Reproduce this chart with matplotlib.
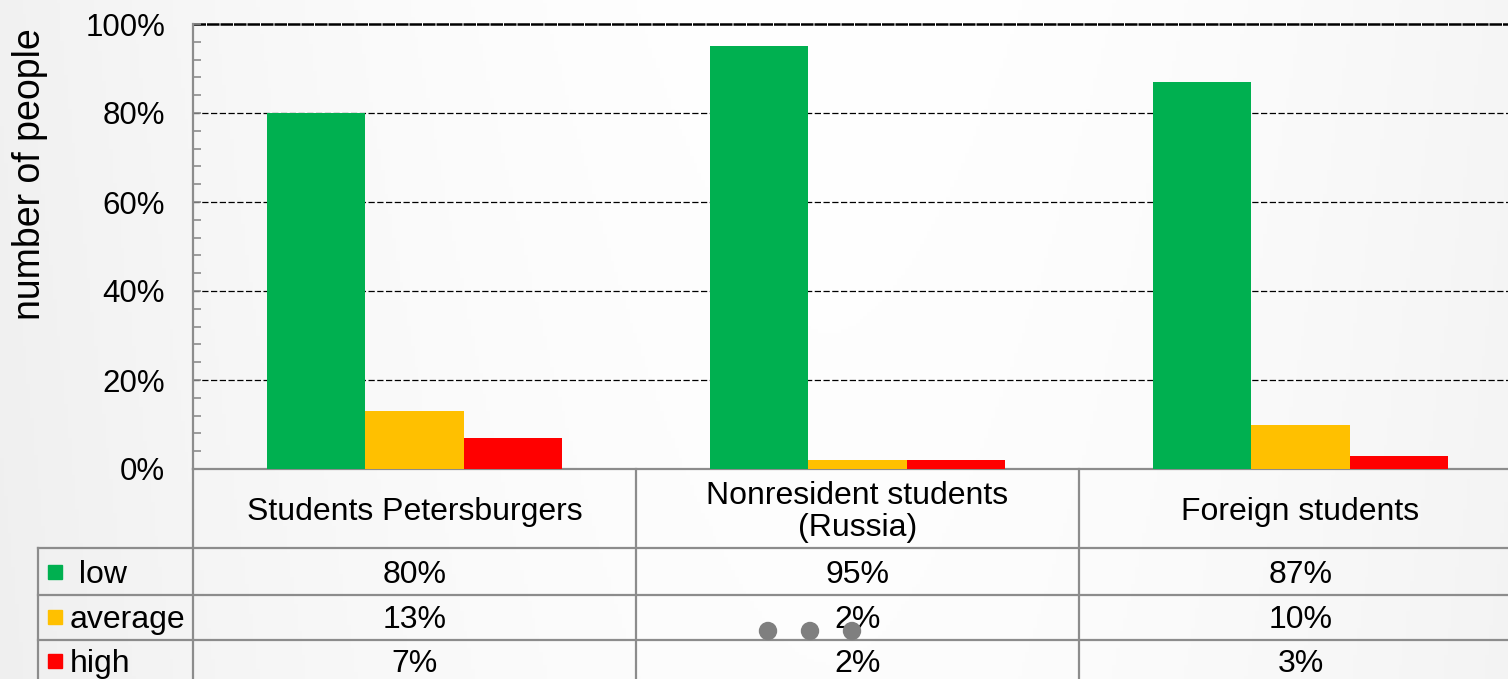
import numpy as np
import matplotlib
matplotlib.use("Agg")
import matplotlib.pyplot as plt
from matplotlib.transforms import blended_transform_factory
from matplotlib.lines import Line2D
from matplotlib.patches import Rectangle, Ellipse
from matplotlib.ticker import MultipleLocator, FuncFormatter

# ---- data ----
categories = ["Students Petersburgers", "Nonresident students\n(Russia)", "Foreign students"]
series_names = [" low", "average", "high"]
low = [80, 95, 87]
average = [13, 2, 10]
high = [7, 2, 3]
series_values = [low, average, high]
series_colors = ["#00B050", "#FFC000", "#FF0000"]
yticks = [0, 20, 40, 60, 80, 100]

plt.rcParams['font.family'] = ['Liberation Sans', 'DejaVu Sans']

W, H = 1508, 679
fig = plt.figure(figsize=(W / 100, H / 100), dpi=100)

def fy(y):
    return 1 - y / H

def fx(x):
    return x / W

# background gradient
bg = fig.add_axes([0, 0, 1, 1], zorder=-10)
xs = np.linspace(0, 1, 400)
ys = np.linspace(0, 1, 200)
X, Y = np.meshgrid(xs, ys)
val = 1 - 0.045 * (np.abs(X - 0.55) * 2) ** 1.8 - 0.008 * Y
img = np.dstack([val, val, val])
bg.imshow(img, extent=[0, 1, 0, 1], aspect='auto', vmin=0, vmax=1)
bg.set_axis_off()

# main axes (extends slightly past the right edge, like the reference crop)
ax_left, ax_right = 193, 1522
ax_top, ax_bot = 24, 469
ax = fig.add_axes([fx(ax_left), fy(ax_bot), (ax_right - ax_left) / W, (ax_bot - ax_top) / H])
ax.set_facecolor('none')

n = len(categories)
x = np.arange(n)
bw = 0.222
for i, (vals, col) in enumerate(zip(series_values, series_colors)):
    ax.bar(x + (i - 1) * bw, vals, width=bw, color=col, zorder=3)

ax.set_xlim(-0.5, n - 0.5)
ax.set_ylim(0, 100)
ax.set_yticks(yticks)
ax.yaxis.set_major_formatter(FuncFormatter(lambda v, p: f"{int(v)}%"))
ax.yaxis.set_minor_locator(MultipleLocator(4))
ax.tick_params(axis='y', which='both', direction='in', color='#8c8c8c', width=1.2)
ax.tick_params(axis='y', which='major', length=6, pad=20, labelsize=22.5)
ax.tick_params(axis='y', which='minor', length=6)
ax.set_xticks([])

for yv in yticks[1:-1]:
    ax.axhline(yv, color='black', lw=0.9, linestyle=(0, (5, 2)), zorder=1)
ax.axhline(100, color='black', lw=1.8, linestyle=(0, (5, 0.4)), zorder=1, clip_on=False)

for s in ['top', 'right']:
    ax.spines[s].set_visible(False)
for s in ['left', 'bottom']:
    ax.spines[s].set_color('#8c8c8c')
    ax.spines[s].set_linewidth(1.6)

fig.text(fx(30), fy(174), "number of people", rotation=90, ha='center', va='center', fontsize=27)

# ---- data table below the axes ----
tr = blended_transform_factory(ax.transData, fig.transFigure)
gray = '#8c8c8c'
row_y = [548, 595, 640]
row_centers = [575, 620, 664]
label_left = 38

for yy in row_y:
    fig.add_artist(Line2D([fx(label_left), 1], [fy(yy), fy(yy)], color=gray, lw=1.6,
                          transform=fig.transFigure))
for b in np.arange(n + 1) - 0.5:
    fig.add_artist(Line2D([b, b], [fy(ax_bot), fy(H + 5)], color=gray, lw=1.6, transform=tr))
fig.add_artist(Line2D([fx(label_left), fx(label_left)], [fy(548), fy(H + 5)], color=gray, lw=1.6,
                      transform=fig.transFigure))

for i, c in enumerate(categories):
    fig.text(i, fy(512), c, transform=tr, ha='center', va='center', fontsize=23,
             linespacing=1.12)

for r, (name, vals, col) in enumerate(zip(series_names, series_values, series_colors)):
    yc = row_centers[r]
    fig.add_artist(Rectangle((fx(48), fy(yc + 4)), 14 / W, 14 / H, color=col,
                             transform=fig.transFigure))
    fig.text(fx(70), fy(yc), name, ha='left', va='center', fontsize=23)
    for i, v in enumerate(vals):
        fig.text(i, fy(yc), f"{v}%", transform=tr, ha='center', va='center', fontsize=23)

# slide navigation dots overlay
for cx in [768, 810, 852]:
    fig.add_artist(Ellipse((fx(cx), fy(631)), 17 / W, 17 / H, color='#7f7f7f',
                           transform=fig.transFigure, zorder=10))

fig.savefig("out.png", dpi=100)
